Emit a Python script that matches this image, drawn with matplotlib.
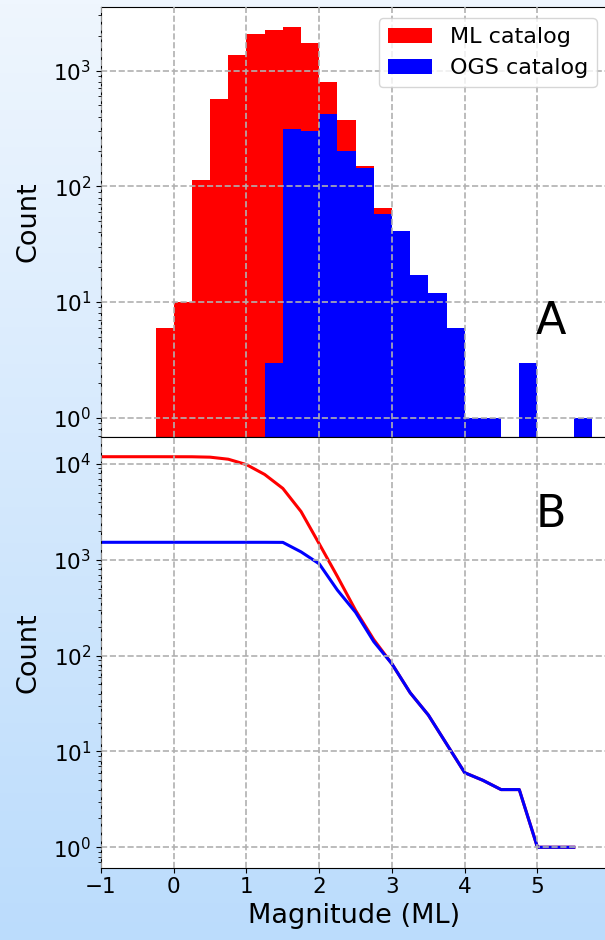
import numpy as np
import matplotlib
matplotlib.use('Agg')
import matplotlib.pyplot as plt
from matplotlib.colors import LinearSegmentedColormap

# 数据: 0.25 震级分箱 (左边界) 及各目录的计数
bin_left = [-1.0, -0.75, -0.5, -0.25, 0.0, 0.25, 0.5, 0.75, 1.0, 1.25, 1.5, 1.75, 2.0,
            2.25, 2.5, 2.75, 3.0, 3.25, 3.5, 3.75, 4.0, 4.25, 4.5, 4.75, 5.0, 5.25, 5.5]
bin_width = 0.25
ml_counts = [0, 0, 0, 6, 10, 113, 566, 1367, 2075, 2218, 2370, 1723, 799,
             373, 150, 65, 41, 17, 12, 6, 1, 1, 0, 3, 0, 0, 1]
ogs_counts = [0, 0, 0, 0, 0, 0, 0, 0, 0, 3, 310, 303, 425,
              200, 143, 58, 41, 17, 12, 6, 1, 1, 0, 3, 0, 0, 1]
x_ticks = [-1, 0, 1, 2, 3, 4, 5]

# 累积计数 N(>=M)
ml_cum = np.cumsum(ml_counts[::-1])[::-1]
ogs_cum = np.cumsum(ogs_counts[::-1])[::-1]

W, H = 605, 940
fig = plt.figure(figsize=(W / 100, H / 100), dpi=100)

# 背景渐变
bg = fig.add_axes([0, 0, 1, 1], zorder=-10)
cmap = LinearSegmentedColormap.from_list('bg', ['#eff6fe', '#bbdcfc'])
bg.imshow(np.linspace(0, 1, 256).reshape(-1, 1), aspect='auto', cmap=cmap,
          extent=[0, 1, 0, 1], origin='upper')
bg.axis('off')

left = 101 / W
width = 507 / W
ax1 = fig.add_axes([left, 1 - 437 / H, width, 429.7 / H])
ax2 = fig.add_axes([left, 1 - 867.5 / H, width, 430.5 / H], sharex=ax1)

tick_fs = 15.5
label_fs = 19.5

# A: 直方图
ax1.bar(bin_left, ml_counts, width=bin_width, align='edge', color='red',
        linewidth=0, label='ML catalog')
ax1.bar(bin_left, ogs_counts, width=bin_width, align='edge', color='blue',
        linewidth=0, label='OGS catalog')
ax1.set_yscale('log')
ax1.set_ylim(0.683, 3516)
ax1.set_ylabel('Count', fontsize=label_fs, labelpad=8.5)
ax1.legend(loc='upper right', fontsize=16)
ax1.text(0.888, 0.268, 'A', transform=ax1.transAxes, fontsize=32,
         ha='center', va='center')
ax1.tick_params(axis='x', labelbottom=False, bottom=False)

# B: 累积曲线
ax2.plot(bin_left, ml_cum, color='red', lw=2.2)
ax2.plot(bin_left, ogs_cum, color='blue', lw=2.2)
ax2.set_yscale('log')
ax2.set_ylim(0.615, 19140)
ax2.set_ylabel('Count', fontsize=label_fs, labelpad=8.5)
ax2.set_xlabel('Magnitude (ML)', fontsize=label_fs)
ax2.text(0.888, 0.819, 'B', transform=ax2.transAxes, fontsize=32,
         ha='center', va='center')

for ax in (ax1, ax2):
    ax.set_xlim(-1, 5.97)
    ax.set_xticks(x_ticks)
    ax.grid(True, which='major', linestyle='--', color='#b0b0b0', lw=1.2)
    ax.set_axisbelow(False)
    ax.tick_params(labelsize=tick_fs)
    ax.set_facecolor('white')

fig.savefig('out.png', dpi=100)
